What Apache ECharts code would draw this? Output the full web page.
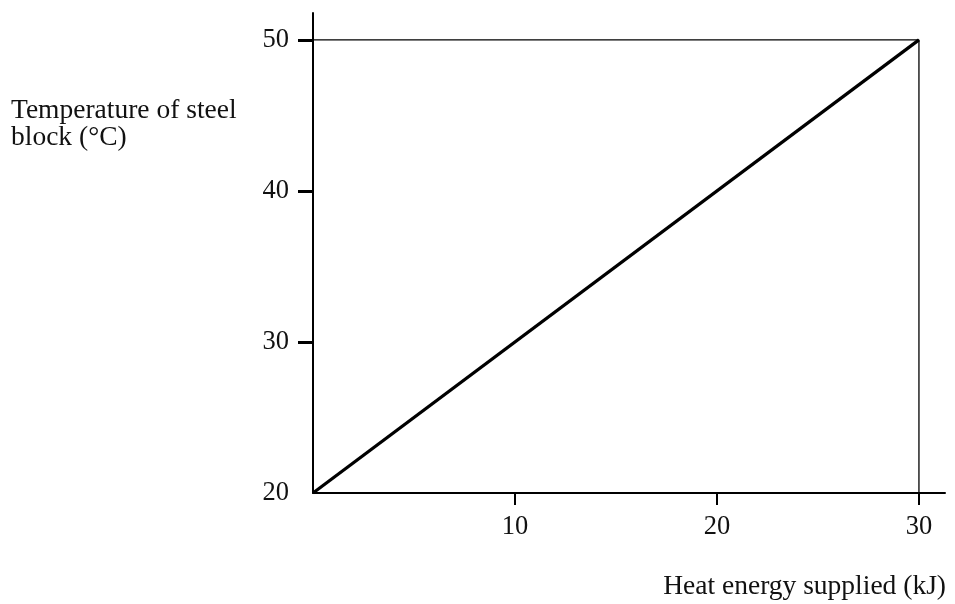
<!DOCTYPE html>
<html>
<head>
<meta charset="utf-8">
<script src="https://cdn.jsdelivr.net/npm/echarts@6/dist/echarts.min.js"></script>
<style>html,body{margin:0;padding:0;background:#fff}#c{width:955px;height:604px}</style>
</head>
<body>
<div id="c"></div>
<script>
// Data
const heatEnergy = [0, 30];          // kJ
const temperature = [20, 50];        // °C
const guideX = [0, 30, 30];
const guideY = [50, 50, 20];
const xTickValues = [10, 20, 30];
const xLabelValues = [10, 20, 30];
const yTickValues = [30, 40, 50];
const yLabelValues = [20, 30, 40, 50];
const yTitle = 'Temperature of steel\nblock (°C)';
const xTitle = 'Heat energy supplied (kJ)';

const FONT = "'Liberation Serif', 'Times New Roman', serif";
const chart = echarts.init(document.getElementById('c'), null, {renderer: 'canvas'});
chart.setOption({
  animation: false,
  backgroundColor: '#fff',
  title: [
    {text: yTitle, left: 11, top: 97, padding: 0,
     textStyle: {fontFamily: FONT, fontSize: 27.5, fontWeight: 'normal', color: '#111', lineHeight: 27}},
    {text: xTitle, right: 9, top: 573, padding: 0,
     textStyle: {fontFamily: FONT, fontSize: 27.5, fontWeight: 'normal', color: '#111', lineHeight: 28}}
  ],
  grid: {left: 313, right: 10, top: 13, bottom: 111, containLabel: false},
  xAxis: {
    type: 'value', min: 0, max: 31.29,
    axisLine: {show: true, lineStyle: {color: '#000', width: 2}},
    axisTick: {show: true, length: 12, inside: false, customValues: xTickValues, lineStyle: {color: '#000', width: 2}},
    axisLabel: {show: true, margin: 21, customValues: xLabelValues, fontFamily: FONT, fontSize: 26.5, color: '#111'},
    splitLine: {show: false}
  },
  yAxis: {
    type: 'value', min: 20, max: 51.78,
    axisLine: {show: true, lineStyle: {color: '#000', width: 2}},
    axisTick: {show: true, length: 15, inside: false, customValues: yTickValues, lineStyle: {color: '#000', width: 3}},
    axisLabel: {show: true, margin: 24, customValues: yLabelValues, fontFamily: FONT, fontSize: 26.5, color: '#111'},
    splitLine: {show: false}
  },
  series: [
    {
      type: 'line', silent: true, symbol: 'none',
      data: guideX.map((x, i) => [x, guideY[i]]),
      lineStyle: {color: '#000', width: 1.3}
    },
    {
      type: 'line', silent: true, symbol: 'none',
      data: heatEnergy.map((x, i) => [x, temperature[i]]),
      lineStyle: {color: '#000', width: 3.2}
    }
  ]
});
</script>
</body>
</html>
